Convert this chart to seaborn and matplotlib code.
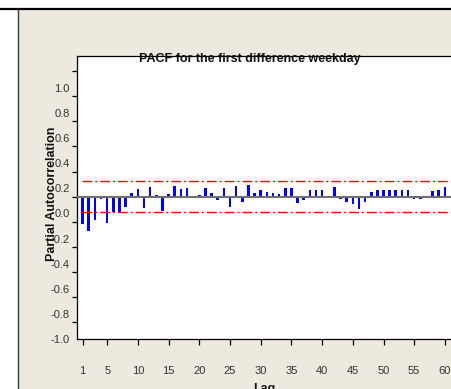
import matplotlib
matplotlib.use("Agg")
import matplotlib.pyplot as plt
from matplotlib.patches import Rectangle
from matplotlib.lines import Line2D
import numpy as np
import pandas as pd
import seaborn as sns

# ---- data ----
lags = list(range(1, 61))
pacf = [-0.215, -0.27, -0.19, -0.02, -0.21, -0.12, -0.125, -0.08, 0.03, 0.06,
        -0.09, 0.08, 0.01, -0.115, 0.02, 0.085, 0.06, 0.07, 0.005, 0.015,
        0.07, 0.03, -0.03, 0.07, -0.08, 0.085, -0.045, 0.09, 0.03, 0.05,
        0.04, 0.03, 0.02, 0.07, 0.07, -0.05, -0.03, 0.05, 0.05, 0.05,
        -0.01, 0.08, -0.02, -0.045, -0.055, -0.095, -0.04, 0.04, 0.05, 0.05,
        0.05, 0.05, 0.05, 0.05, -0.02, -0.015, -0.01, 0.045, 0.05, 0.08]
conf_limit = 0.122
x_ticks = [1, 5, 10, 15, 20, 25, 30, 35, 40, 45, 50, 55, 60]
y_ticks = [1.0, 0.8, 0.6, 0.4, 0.2, 0.0, -0.2, -0.4, -0.6, -0.8, -1.0]
y_tick_labels = ["1.0", "0.8", "0.6", "0.4", "0.2", "0.0", "-0.2", "-0.4", "-0.6", "-0.8", "-1.0"]
title = "PACF for the first difference weekday"
x_label = "Lag"
y_label = "Partial Autocorrelation"

df = pd.DataFrame({"Lag": lags, "PACF": pacf})

sns.set_style("white")
plt.rcParams["font.family"] = ["Liberation Sans", "DejaVu Sans"]

W, H = 451, 389
fig = plt.figure(figsize=(W / 100, H / 100), dpi=100)
fig.patch.set_facecolor("#EDE9DF")

def fx(px):
    return px / W

def fy(py):
    return 1 - py / H

# white margins and frame lines
fig.add_artist(Rectangle((0, 0), fx(18), 1, transform=fig.transFigure,
                         facecolor="white", edgecolor="none", zorder=0))
fig.add_artist(Rectangle((0, fy(9)), 1, 1 - fy(9), transform=fig.transFigure,
                         facecolor="white", edgecolor="none", zorder=0))
fig.add_artist(Line2D([0, 1], [fy(9), fy(9)], transform=fig.transFigure,
                      color="black", lw=1.6))
fig.add_artist(Line2D([fx(18), fx(18)], [0, fy(9)], transform=fig.transFigure,
                      color="#3a3a3a", lw=1.0))

left_px, top_px, bottom_px, right_px = 76.5, 56, 339, 460
ax = fig.add_axes([fx(left_px), fy(bottom_px), (right_px - left_px) / W,
                   (bottom_px - top_px) / H])
ax.set_facecolor("white")

sns.barplot(data=df, x="Lag", y="PACF", native_scale=True, width=0.42,
            color="#0000FF", saturation=1, linewidth=0, ax=ax, zorder=2)

ax.axhline(0, color="#707070", lw=1.5, zorder=3)
dash = (0, (7.0, 2.2, 1.4, 2.2))
ax.hlines([conf_limit, -conf_limit], 0.9, 62.5, colors="#FF0000", lw=1.0,
          linestyles=[dash, dash], zorder=3)

ax.set_xlim(0, (right_px - left_px) / 6.14)
ax.set_ylim(-1.12, 1.12)

for s in ["left", "bottom", "top"]:
    ax.spines[s].set_visible(True)
    ax.spines[s].set_color("black")
    ax.spines[s].set_linewidth(0.9)
ax.spines["right"].set_visible(False)

tick_font = dict(family=["Liberation Sans Narrow", "Liberation Sans"], size=8)

ax.set_xticks(x_ticks)
ax.set_xticklabels([str(v) for v in x_ticks], fontdict=tick_font, color="#333333")
ax.tick_params(axis="x", which="major", direction="out", length=4.3, width=0.9,
               pad=15, color="black", bottom=True)

ax.set_yticks(y_ticks)
ax.set_yticklabels([""] * len(y_ticks))
ax.tick_params(axis="y", which="major", direction="out", length=3.6, width=0.9,
               color="black", left=True)
label_offset = 0.134
ax.set_yticks([v - label_offset for v in y_ticks], minor=True)
ax.set_yticklabels(y_tick_labels, minor=True, fontdict=tick_font, color="#333333")
ax.tick_params(axis="y", which="minor", length=0, pad=5.0, left=True)

ax.set_xlabel("")
ax.set_ylabel("")

fig.text(fx(249.5), fy(59), title, ha="center", va="center",
         fontsize=9, fontweight="bold", color="#111111", zorder=5)
fig.text(fx(52), fy(194), y_label, ha="center", va="center", rotation=90,
         fontsize=9, fontweight="bold", color="#111111", zorder=5)
fig.text(fx(264), fy(392), x_label, ha="center", va="baseline",
         fontsize=9, fontweight="bold", color="#111111")

fig.savefig("out.png", dpi=100, facecolor=fig.get_facecolor())
